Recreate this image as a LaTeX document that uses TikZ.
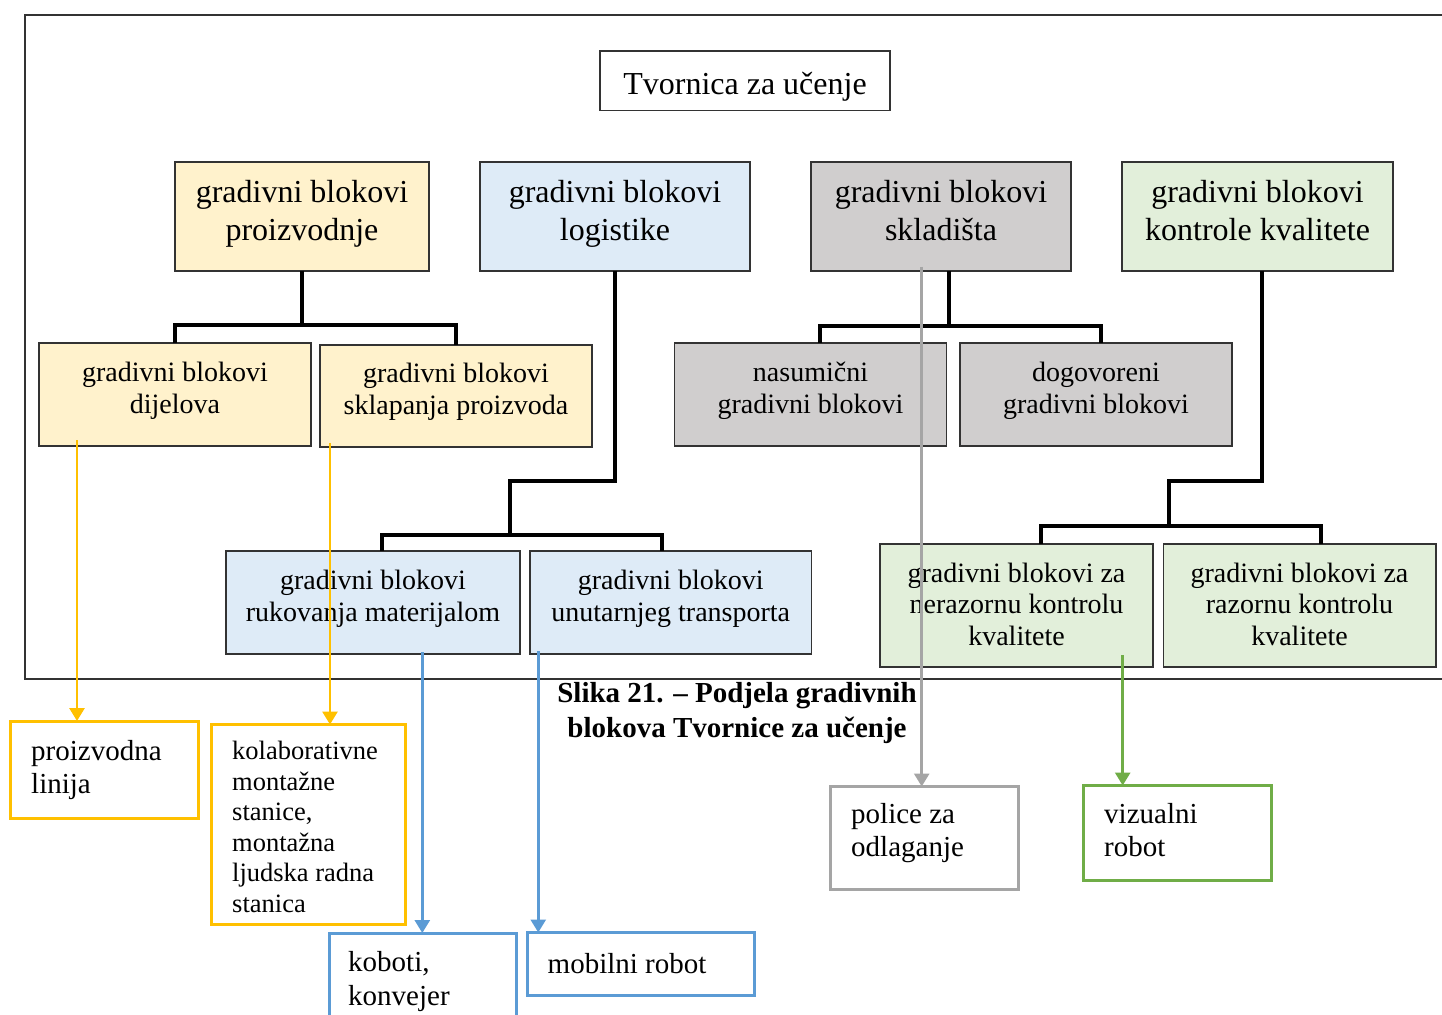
\documentclass[tikz,border=0pt]{standalone}
\usepackage{fontspec}
\setmainfont{Liberation Serif}
\usetikzlibrary{arrows.meta}
\definecolor{bd}{HTML}{333333}
\definecolor{fY}{HTML}{FFF2CC}
\definecolor{fB}{HTML}{DEEBF7}
\definecolor{fG}{HTML}{D0CECE}
\definecolor{fQ}{HTML}{E2EFDA}
\definecolor{lY}{HTML}{FFC000}
\definecolor{lB}{HTML}{5B9BD5}
\definecolor{lG}{HTML}{A5A5A5}
\definecolor{lQ}{HTML}{70AD47}
\begin{document}
\begin{tikzpicture}[x=1pt,y=-1pt,
  blk/.style={draw=bd, line width=1.5pt, inner sep=0pt, outer sep=0pt},
  tree/.style={line width=3.2pt, black},
  ctr/.style={inner sep=0pt, anchor=north, align=center, execute at begin node=\strut},
  lft/.style={inner sep=0pt, anchor=north west, align=left, execute at begin node=\strut},
  szA/.style={font=\fontsize{32}{37.5}\selectfont, yshift=26.25pt},
  szB/.style={font=\fontsize{28}{31.8}\selectfont, yshift=22.26pt},
  szC/.style={font=\fontsize{29}{33.4}\selectfont, yshift=23.38pt},
  szD/.style={font=\fontsize{26.5}{30.5}\selectfont, yshift=21.35pt},
  szE/.style={font=\bfseries\fontsize{29}{34.6}\selectfont, yshift=24.22pt},
  outbox/.style={line width=3pt, inner sep=0pt, outer sep=0pt, fill=white},
  conn/.style={line width=2.8pt, -{Triangle[width=15pt,length=13pt]}}
]
\clip (0,0) rectangle (1442,1014);
\fill[white] (0,0) rectangle (1442,1014);

% frame around the tree
\draw[line width=1.6pt, bd] (1442,15) -- (25,15) -- (25,679) -- (1442,679);

% title
\node[blk, minimum width=290pt, minimum height=59.5pt] (tit) at (745,80.75) {};
\node[ctr,szA] at (745,94) {Tvornica za učenje};

% main groups
\node[blk, fill=fY, minimum width=254pt, minimum height=109pt] (prz) at (302,216.5) {};
\node[blk, fill=fB, minimum width=270pt, minimum height=109pt] (log) at (615,216.5) {};
\node[blk, fill=fG, minimum width=260pt, minimum height=109pt] (skl) at (941,216.5) {};
\node[blk, fill=fQ, minimum width=271pt, minimum height=109pt] (kon) at (1257.5,216.5) {};
\node[ctr,szA] at (302,206.5) {gradivni blokovi\\proizvodnje};
\node[ctr,szA] at (615,206.5) {gradivni blokovi\\logistike};
\node[ctr,szA] at (941,206.5) {gradivni blokovi\\skladišta};
\node[ctr,szA] at (1257.5,206.5) {gradivni blokovi\\kontrole kvalitete};

% sub groups
\node[blk, fill=fY, minimum width=272pt, minimum height=103pt] (dij) at (175,394.5) {};
\node[blk, fill=fY, minimum width=272pt, minimum height=102pt] (skp) at (456,396) {};
\node[blk, fill=fG, minimum width=272pt, minimum height=103pt] (nas) at (810.5,394.5) {};
\node[blk, fill=fG, minimum width=272pt, minimum height=103pt] (dog) at (1096,394.5) {};
\node[blk, fill=fB, minimum width=294pt, minimum height=103pt] (ruk) at (373,602.5) {};
\node[blk, fill=fB, minimum width=281.5pt, minimum height=103pt] (unt) at (670.75,602.5) {};
\node[blk, fill=fQ, minimum width=273pt, minimum height=123pt] (ner) at (1016.5,605.5) {};
\node[blk, fill=fQ, minimum width=272.5pt, minimum height=123pt] (raz) at (1299.5,605.5) {};
\node[ctr,szB] at (175,384) {gradivni blokovi\\dijelova};
\node[ctr,szB] at (456,385.5) {gradivni blokovi\\sklapanja proizvoda};
\node[ctr,szB] at (810.5,384) {nasumični\\gradivni blokovi};
\node[ctr,szB] at (1096,384) {dogovoreni\\gradivni blokovi};
\node[ctr,szB] at (373,592.3) {gradivni blokovi\\rukovanja materijalom};
\node[ctr,szB] at (670.75,592.3) {gradivni blokovi\\unutarnjeg transporta};
\node[ctr,szB] at (1016.5,584.7) {gradivni blokovi za\\nerazornu kontrolu\\kvalitete};
\node[ctr,szB] at (1299.5,584.7) {gradivni blokovi za\\razornu kontrolu\\kvalitete};

% tree connectors
\coordinate (b1) at (302,325);
\draw[tree] (prz.south) -- (b1);
\draw[tree] (dij.north) |- (b1) -| (skp.north);

\coordinate (k2) at (510,481);
\coordinate (b2) at (510,535);
\draw[tree] (log.south) |- (k2) -- (b2);
\draw[tree] ([xshift=9pt]ruk.north) |- (b2) -| ([xshift=-8.75pt]unt.north);

\coordinate (b3) at (949,326);
\draw[tree] ([xshift=8pt]skl.south) -- (b3);
\draw[tree] ([xshift=9.5pt]nas.north) |- (b3) -| ([xshift=5pt]dog.north);

\coordinate (k4) at (1169,481);
\coordinate (b4) at (1169,526);
\draw[tree] ([xshift=4.5pt]kon.south) |- (k4) -- (b4);
\draw[tree] ([xshift=24.5pt]ner.north) |- (b4) -| ([xshift=21.5pt]raz.north);

% caption
\node[ctr,szE] (cap) at (737,706.7) {Slika 21. – Podjela gradivnih\\blokova Tvornice za učenje};

% examples
\node[outbox, draw=lY, minimum width=188pt, minimum height=97pt] (pl) at (104.5,769.5) {};
\node[outbox, draw=lY, minimum width=194.5pt, minimum height=200pt] (kol) at (308.25,824.5) {};
\node[outbox, draw=lB, minimum width=187pt, minimum height=107pt] (kob) at (422.5,986.5) {};
\node[outbox, draw=lB, minimum width=226.5pt, minimum height=62.5pt] (mob) at (640.75,963.75) {};
\node[outbox, draw=lG, minimum width=188pt, minimum height=102.5pt] (pol) at (924.5,837.75) {};
\node[outbox, draw=lQ, minimum width=188pt, minimum height=95pt] (viz) at (1177.5,833) {};
\node[lft,szC] at (31,763.5) {proizvodna\\linija};
\node[lft,szD] at (232,762.5) {kolaborativne\\montažne\\stanice,\\montažna\\ljudska radna\\stanica};
\node[lft,szC] at (348,975) {koboti,\\konvejer};
\node[lft,szC] at (547.5,973) {mobilni robot};
\node[lft,szC] at (851,826.5) {police za\\odlaganje};
\node[lft,szC] at (1104,826.5) {vizualni\\robot};

% arrows from groups to examples
\coordinate (s1) at ([xshift=-98pt,yshift=6pt]dij.south);
\coordinate (s2) at ([xshift=-126pt,yshift=4pt]skp.south);
\coordinate (s3) at ([xshift=49.3pt,yshift=2pt]ruk.south);
\coordinate (s4) at ([xshift=-132.5pt,yshift=3pt]unt.south);
\coordinate (s5) at ([xshift=-19.3pt,yshift=4.3pt]skl.south);
\coordinate (s6) at ([xshift=106.2pt,yshift=12pt]ner.south);
\draw[conn, lY] (s1) -- (s1 |- pl.north);
\draw[conn, lY] (s2) -- (s2 |- kol.north);
\draw[conn, lB] (s3) -- (s3 |- kob.north);
\draw[conn, lB] (s4) -- (s4 |- mob.north);
\draw[conn, lG] (s5) -- (s5 |- pol.north);
\draw[conn, lQ] (s6) -- (s6 |- viz.north);
\end{tikzpicture}
\end{document}
